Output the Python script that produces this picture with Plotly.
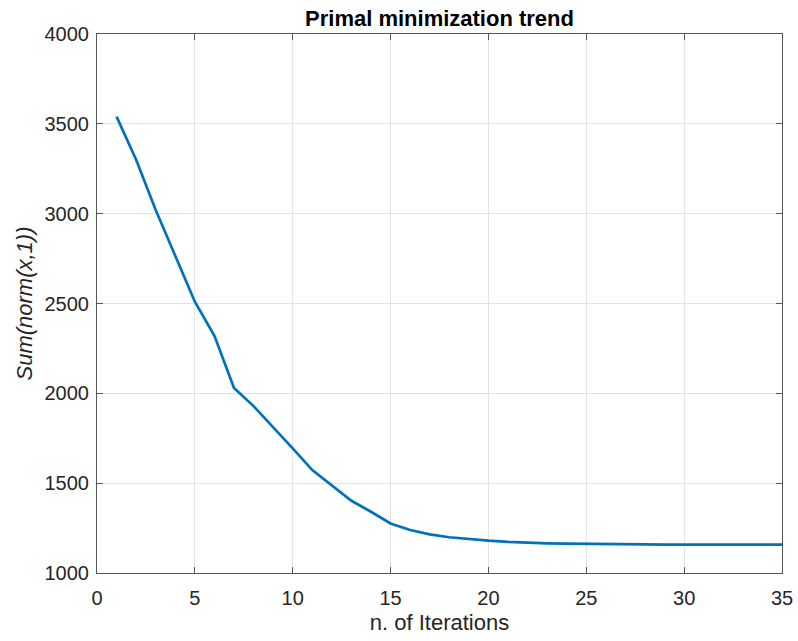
import plotly.graph_objects as go

# Objective value per primal iteration
iterations = list(range(1, 36))
objective = [3540, 3300, 3020, 2770, 2510, 2320, 2030, 1929, 1814, 1694,
             1573, 1486, 1402, 1341, 1276, 1239, 1215, 1199, 1188, 1180,
             1173, 1168, 1165, 1163, 1161, 1160, 1159, 1159, 1158, 1158,
             1158, 1158, 1158, 1158, 1158]

x_ticks = [0, 5, 10, 15, 20, 25, 30, 35]
y_ticks = [1000, 1500, 2000, 2500, 3000, 3500, 4000]

axis_color = "#262626"
font_family = "Liberation Sans, Arial, sans-serif"

fig = go.Figure()
fig.add_trace(go.Scatter(
    x=iterations, y=objective, mode="lines",
    line=dict(color="#0072BD", width=2.7),
    showlegend=False,
))

common_axis = dict(
    showline=True, linecolor="#555555", linewidth=1, mirror="ticks",
    ticks="inside", ticklen=6, tickwidth=1, tickcolor="#555555",
    showgrid=True, gridcolor="#E3E3E3", gridwidth=1,
    zeroline=False, automargin=False,
    tickfont=dict(family=font_family, size=20, color=axis_color),
)

fig.update_xaxes(
    range=[0, 35], tickvals=x_ticks, ticklabelstandoff=7,
    title=dict(text="n. of Iterations",
               font=dict(family=font_family, size=22, color=axis_color),
               standoff=6),
    **common_axis,
)
fig.update_yaxes(
    range=[1000, 4000], tickvals=y_ticks, ticklabelstandoff=3,
    title=dict(text="<i>Sum(norm(x,1))</i>",
               font=dict(family=font_family, size=22, color=axis_color),
               standoff=5),
    **common_axis,
)

fig.update_layout(
    width=798, height=641,
    margin=dict(l=97, r=16, t=34, b=68),
    paper_bgcolor="white", plot_bgcolor="white",
    title=dict(text="<b>Primal minimization trend</b>",
               font=dict(family=font_family, size=22, color="black"),
               x=0.5, xref="paper", xanchor="center",
               y=1 - 18 / 641, yref="container", yanchor="middle"),
)

fig.write_html("out.html")
